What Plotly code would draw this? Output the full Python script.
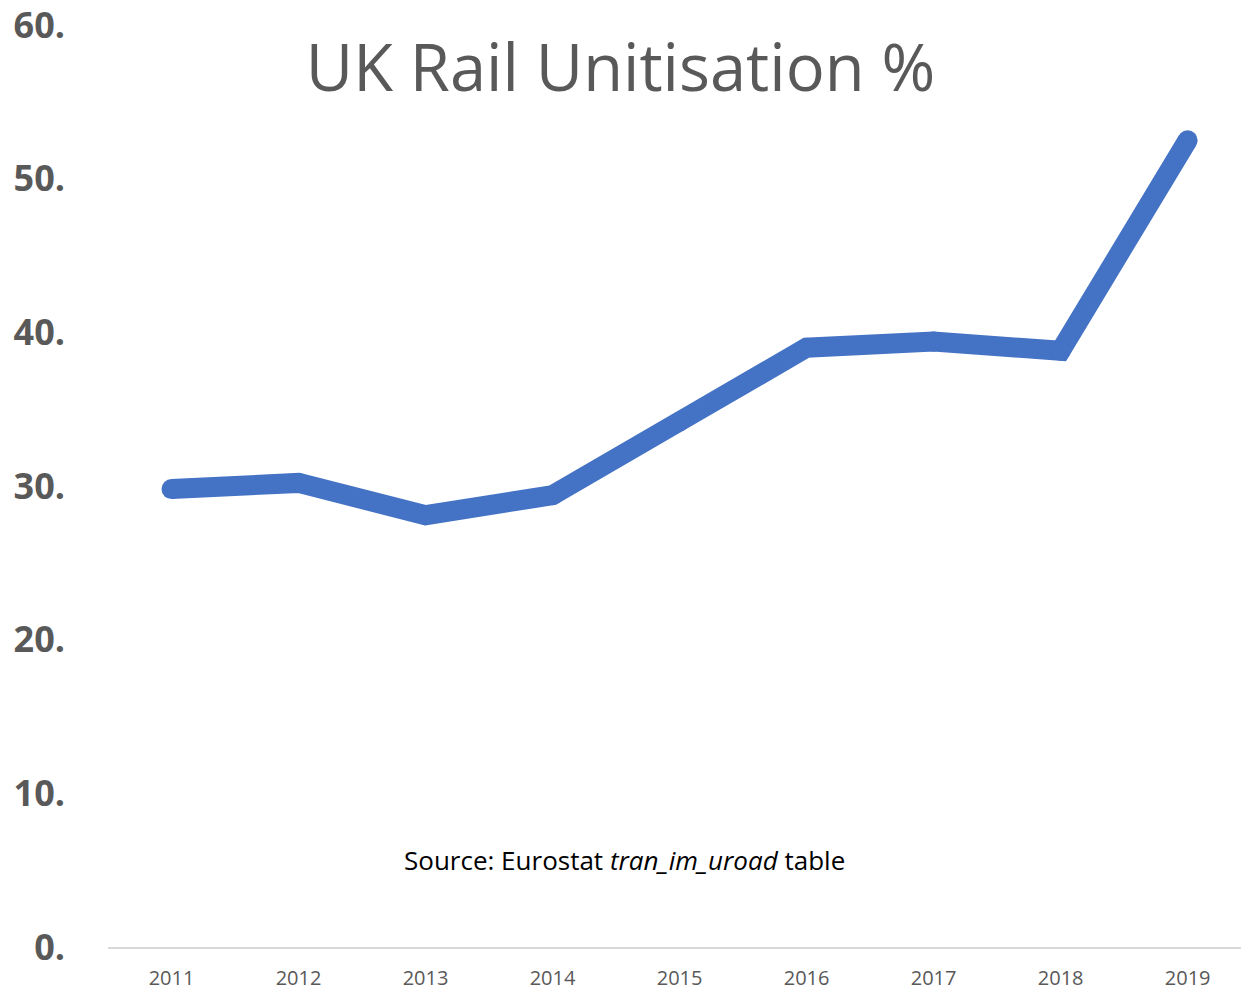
import plotly.graph_objects as go

years = ["2011", "2012", "2013", "2014", "2015", "2016", "2017", "2018", "2019"]
values = [29.8, 30.2, 28.1, 29.4, 34.2, 39.0, 39.4, 38.8, 52.5]
y_ticks = [0, 10, 20, 30, 40, 50, 60]
y_tick_labels = ["0.", "10.", "20.", "30.", "40.", "50.", "60."]

fig = go.Figure()
fig.add_trace(go.Scatter(
    x=years, y=values, mode="lines+markers",
    line=dict(color="#4472C4", width=20),
    marker=dict(color="#4472C4", size=20, line=dict(width=0)),
    hoverinfo="skip", showlegend=False,
))

fig.update_layout(
    width=1241, height=991,
    margin=dict(l=108, r=0, t=24, b=43),
    paper_bgcolor="white", plot_bgcolor="white",
    title=dict(text="UK Rail Unitisation %", x=0.5, xanchor="center", xref="container",
               y=1 - 68 / 991, yanchor="middle",
               font=dict(family="Open Sans", size=65, color="#595959")),
    xaxis=dict(type="category", range=[-0.5, 8.42], showgrid=False, zeroline=False,
               showline=True, linecolor="#d9d9d9", linewidth=2, ticks="",
               ticklabelstandoff=12,
               tickfont=dict(family="Open Sans", size=20, color="#595959")),
    yaxis=dict(range=[0, 60], tickvals=y_ticks, ticktext=y_tick_labels,
               showgrid=False, zeroline=False, showline=False, ticks="",
               ticklabelstandoff=42, ticklabeloverflow="allow",
               tickfont=dict(family="Open Sans", size=36, color="#595959", weight="bold")),
    annotations=[dict(
        text="Source: Eurostat <i>tran_im_uroad</i> table",
        xref="paper", yref="y", x=(624 - 108) / 1133, y=5.65, showarrow=False,
        xanchor="center", yanchor="middle",
        font=dict(family="Open Sans", size=26, color="black"),
    )],
)

fig.write_html("out.html")
